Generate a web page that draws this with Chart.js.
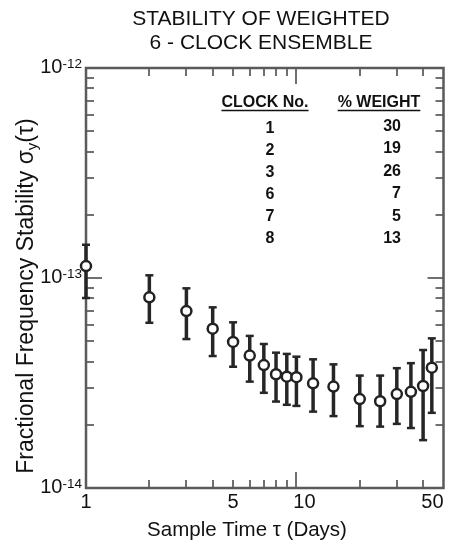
<!DOCTYPE html>
<html><head><meta charset="utf-8">
<script src="https://cdn.jsdelivr.net/npm/chart.js@4.4.1/dist/chart.umd.min.js"></script>
<style>html,body{margin:0;padding:0;background:#fff;}canvas{display:block;}</style>
</head><body>
<canvas id="c" width="451" height="543"></canvas>
<script>
// ---- data ----
const tau = [1, 2, 3, 4, 5, 6, 7, 8, 9, 10, 12, 15, 20, 25, 30, 35, 40, 44];
const sigma = [1.14e-13, 8.09e-14, 6.96e-14, 5.74e-14, 4.96e-14, 4.27e-14, 3.85e-14, 3.48e-14, 3.39e-14, 3.37e-14, 3.15e-14, 3.04e-14, 2.65e-14, 2.59e-14, 2.80e-14, 2.87e-14, 3.06e-14, 3.74e-14];
const sigmaHigh = [1.44e-13, 1.03e-13, 8.93e-14, 7.25e-14, 6.15e-14, 5.30e-14, 4.85e-14, 4.41e-14, 4.35e-14, 4.22e-14, 4.10e-14, 3.88e-14, 3.43e-14, 3.43e-14, 3.72e-14, 3.93e-14, 4.54e-14, 5.16e-14];
const sigmaLow = [8.03e-14, 6.12e-14, 5.12e-14, 4.25e-14, 3.78e-14, 3.21e-14, 2.84e-14, 2.58e-14, 2.49e-14, 2.46e-14, 2.31e-14, 2.20e-14, 1.97e-14, 1.96e-14, 2.02e-14, 1.93e-14, 1.69e-14, 2.28e-14];

const xTickValues = [1, 5, 10, 50];
const xTickLabels = ['1', '5', '10', '50'];
const yTickValues = [1e-12, 1e-13, 1e-14];
const yTickExponents = ['-12', '-13', '-14'];
const xMinorTicks = [2, 3, 4, 5, 6, 7, 8, 9, 10, 20, 30, 40];
const xMajorTick = 10;
const yMinorTicks = [2e-14, 3e-14, 4e-14, 5e-14, 6e-14, 7e-14, 8e-14, 9e-14, 1e-13, 2e-13, 3e-13, 4e-13, 5e-13, 6e-13, 7e-13, 8e-13, 9e-13];
const yMajorTick = 1e-13;

const clockNumbers = ['1', '2', '3', '6', '7', '8'];
const clockWeights = ['30', '19', '26', '7', '5', '13'];
const tableHeaders = ['CLOCK No.', '% WEIGHT'];
const titleLines = ['STABILITY OF WEIGHTED', '6 - CLOCK ENSEMBLE'];
const xAxisTitle = 'Sample Time \u03C4 (Days)';
const yAxisTitle = ['Fractional Frequency Stability \u03C3', 'y', '(\u03C4)'];

const FONT = '"Liberation Sans", Arial, Helvetica, sans-serif';

function seg(ctx, x1, y1, x2, y2) { ctx.beginPath(); ctx.moveTo(x1, y1); ctx.lineTo(x2, y2); ctx.stroke(); }

const decor = {
  id: 'decor',
  beforeDatasetsDraw(chart) {
    const { ctx, chartArea: a, scales: { x, y } } = chart;
    ctx.save();
    // inward ticks
    ctx.strokeStyle = '#707070';
    ctx.lineWidth = 2;
    xMinorTicks.forEach(v => {
      const px = Math.round(x.getPixelForValue(v));
      const len = v === xMajorTick ? 16 : 8;
      seg(ctx, px, a.top, px, a.top + len);
      seg(ctx, px, a.bottom, px, a.bottom - len);
    });
    yMinorTicks.forEach(v => {
      const py = Math.round(y.getPixelForValue(v));
      const len = v === yMajorTick ? 16 : 8;
      seg(ctx, a.left, py, a.left + len, py);
      seg(ctx, a.right, py, a.right - len, py);
    });
    // frame
    ctx.strokeStyle = '#5a5a5a';
    ctx.lineWidth = 2.5;
    ctx.strokeRect(a.left, a.top, a.right - a.left, a.bottom - a.top);
    // error bars
    ctx.strokeStyle = '#262626';
    tau.forEach((t, i) => {
      const px = x.getPixelForValue(t);
      const hi = y.getPixelForValue(sigmaHigh[i]);
      const lo = y.getPixelForValue(sigmaLow[i]);
      ctx.lineWidth = 3.5;
      seg(ctx, px, hi, px, lo);
      ctx.lineWidth = 2.5;
      seg(ctx, px - 4, hi, px + 4, hi);
      seg(ctx, px - 4, lo, px + 4, lo);
    });
    ctx.restore();
  },
  afterDraw(chart) {
    const { ctx, chartArea: a, scales: { x, y } } = chart;
    ctx.save();
    ctx.fillStyle = '#111';
    // title
    ctx.font = '21px ' + FONT;
    ctx.textAlign = 'center';
    ctx.textBaseline = 'alphabetic';
    ctx.fillText(titleLines[0], 261, 25);
    ctx.fillText(titleLines[1], 261, 49);
    // x tick labels
    ctx.font = '20px ' + FONT;
    xTickValues.forEach((v, i) => {
      let px = x.getPixelForValue(v);
      const w = ctx.measureText(xTickLabels[i]).width;
      if (px + w / 2 > a.right) px = a.right - w / 2;
      if (xTickLabels[i] === '10') px += 8;
      ctx.textAlign = 'center';
      ctx.fillText(xTickLabels[i], px, 508);
    });
    // y tick labels (10 with superscript exponent)
    yTickValues.forEach((v, i) => {
      const py = y.getPixelForValue(v);
      ctx.font = '13.5px ' + FONT;
      const we = ctx.measureText(yTickExponents[i]).width;
      ctx.textAlign = 'right';
      ctx.fillText(yTickExponents[i], 82, py);
      ctx.font = '20px ' + FONT;
      ctx.fillText('10', 82 - we, py + 5);
    });
    // x axis title
    ctx.font = '20.5px ' + FONT;
    ctx.textAlign = 'center';
    ctx.fillText(xAxisTitle, 247, 536);
    // y axis title (rotated, with subscript)
    ctx.save();
    ctx.translate(33, 296);
    ctx.rotate(-Math.PI / 2);
    ctx.textAlign = 'left';
    ctx.font = '23px ' + FONT;
    const w1 = ctx.measureText(yAxisTitle[0]).width;
    const w3 = ctx.measureText(yAxisTitle[2]).width;
    ctx.font = '15px ' + FONT;
    const w2 = ctx.measureText(yAxisTitle[1]).width;
    const sx = -(w1 + w2 + w3) / 2;
    ctx.font = '23px ' + FONT;
    ctx.fillText(yAxisTitle[0], sx, 0);
    ctx.font = '15px ' + FONT;
    ctx.fillText(yAxisTitle[1], sx + w1, 4);
    ctx.font = '23px ' + FONT;
    ctx.fillText(yAxisTitle[2], sx + w1 + w2, 0);
    ctx.restore();
    // table
    ctx.font = 'bold 16px ' + FONT;
    ctx.textAlign = 'center';
    ctx.fillText(tableHeaders[0], 265, 107);
    ctx.fillText(tableHeaders[1], 379, 107);
    ctx.strokeStyle = '#111';
    ctx.lineWidth = 1.5;
    const wh0 = ctx.measureText(tableHeaders[0]).width;
    const wh1 = ctx.measureText(tableHeaders[1]).width;
    seg(ctx, 265 - wh0 / 2, 110.5, 265 + wh0 / 2, 110.5);
    seg(ctx, 379 - wh1 / 2, 110.5, 379 + wh1 / 2, 110.5);
    clockNumbers.forEach((n, i) => {
      ctx.textAlign = 'center';
      ctx.fillText(n, 270, 133 + 22 * i);
      ctx.textAlign = 'right';
      ctx.fillText(clockWeights[i], 401, 131 + 22.4 * i);
    });
    ctx.restore();
  }
};

new Chart(document.getElementById('c'), {
  type: 'scatter',
  data: {
    datasets: [{
      data: tau.map((t, i) => ({ x: t, y: sigma[i] })),
      pointRadius: 5,
      pointHoverRadius: 5,
      pointBorderWidth: 2.5,
      pointBackgroundColor: '#ffffff',
      pointBorderColor: '#222222',
      clip: false
    }]
  },
  options: {
    responsive: false,
    animation: false,
    devicePixelRatio: 1,
    events: [],
    layout: { padding: { left: 0, right: 3, top: 68, bottom: 0 } },
    plugins: { legend: { display: false }, tooltip: { enabled: false }, title: { display: false } },
    scales: {
      x: {
        type: 'logarithmic', min: 1, max: 50,
        grid: { display: false }, border: { display: false }, ticks: { display: false },
        afterFit(s) { s.height = 55; }
      },
      y: {
        type: 'logarithmic', min: 1e-14, max: 1e-12,
        grid: { display: false }, border: { display: false }, ticks: { display: false },
        afterFit(s) { s.width = 86; }
      }
    }
  },
  plugins: [decor]
});
</script>
</body></html>
